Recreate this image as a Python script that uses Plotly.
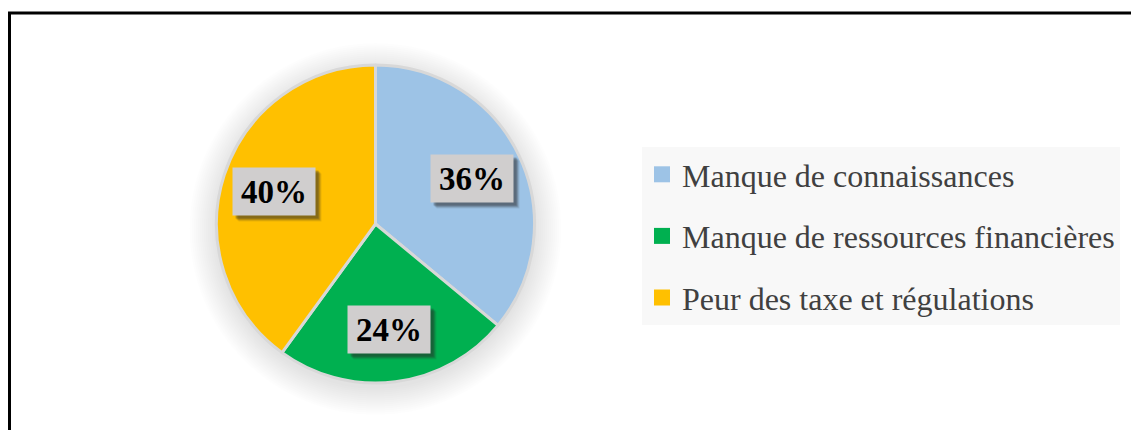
import math
import plotly.graph_objects as go

# ---- data ----
labels = ["Manque de connaissances", "Manque de ressources financières", "Peur des taxe et régulations"]
values = [36, 24, 40]
colors = ["#9DC3E6", "#00B050", "#FFC000"]

# ---- layout constants (pixels) ----
W, H = 1131, 430
cx, cy, R = 375.5, 224, 159
FONT = "Liberation Serif, Times New Roman, serif"

def px2x(px):
    return px / W

def px2y(py):
    return 1 - py / H

fig = go.Figure()

fig.add_trace(go.Pie(
    labels=labels,
    values=values,
    marker=dict(colors=colors, line=dict(color="#D8D8D8", width=3)),
    sort=False,
    direction="clockwise",
    rotation=0,
    textinfo="none",
    hoverinfo="label+percent",
    showlegend=False,
    domain=dict(x=[px2x(cx - R), px2x(cx + R)], y=[px2y(cy + R), px2y(cy - R)]),
))

# legend entries via dummy traces (allows spacing between rows)
for i, (lab, col) in enumerate(zip(labels, colors)):
    fig.add_trace(go.Scatter(
        x=[None], y=[None], mode="markers", name=lab,
        marker=dict(symbol="square", size=16, color=col),
        legendgroup=f"g{i}", showlegend=True,
    ))

shapes = []
# soft shadow around pie
for k in range(14):
    r = R + 1 + k * 2.0
    scy = cy + 5
    shapes.append(dict(
        type="circle", xref="paper", yref="paper", layer="below",
        x0=px2x(cx - r), x1=px2x(cx + r), y0=px2y(scy + r), y1=px2y(scy - r),
        fillcolor="rgba(0,0,0,0.0065)", line=dict(width=0),
    ))
# frame (top and left edges visible)
shapes.append(dict(type="line", xref="paper", yref="paper",
                   x0=px2x(8), x1=1.01, y0=px2y(13), y1=px2y(13),
                   line=dict(color="black", width=3)))
shapes.append(dict(type="line", xref="paper", yref="paper",
                   x0=px2x(9.5), x1=px2x(9.5), y0=px2y(12), y1=-0.01,
                   line=dict(color="black", width=3)))

# percentage labels in grey boxes
annotations = []
total = sum(values)
start = 0
rf = 0.67
for v in values:
    mid = (start + v / 2) / total * 2 * math.pi
    start += v
    lx = cx + rf * R * math.sin(mid)
    ly = cy - rf * R * math.cos(mid)
    txt = f"<b>{round(v / total * 100)}%</b>"
    # shadow
    for off, a in [(6, 0.10), (5, 0.16), (4, 0.22), (3, 0.25)]:
        annotations.append(dict(
            x=px2x(lx + off), y=px2y(ly + off), xref="paper", yref="paper",
            xanchor="center", yanchor="middle",
            text="", showarrow=False, width=80, height=45,
            bgcolor=f"rgba(40,40,40,{a})",
        ))
    annotations.append(dict(
        x=px2x(lx), y=px2y(ly), xref="paper", yref="paper",
        xanchor="center", yanchor="middle",
        text=txt, showarrow=False, width=80, height=45,
        bgcolor="#D0CECE",
        font=dict(family=FONT, size=33, color="black"),
    ))

fig.update_layout(
    width=W, height=H,
    margin=dict(l=0, r=0, t=0, b=0),
    paper_bgcolor="white",
    plot_bgcolor="white",
    xaxis=dict(visible=False),
    yaxis=dict(visible=False),
    shapes=shapes,
    annotations=annotations,
    legend=dict(
        x=px2x(642), y=px2y(147), xanchor="left", yanchor="top",
        bgcolor="#F8F8F8",
        font=dict(family=FONT, size=32, color="#404040"),
        tracegroupgap=17,
        itemclick=False,
    ),
)

fig.write_html(
    "out.html",
    config={"displayModeBar": False},
    post_script="document.body.style.margin='0';document.body.style.overflow='hidden';",
)
